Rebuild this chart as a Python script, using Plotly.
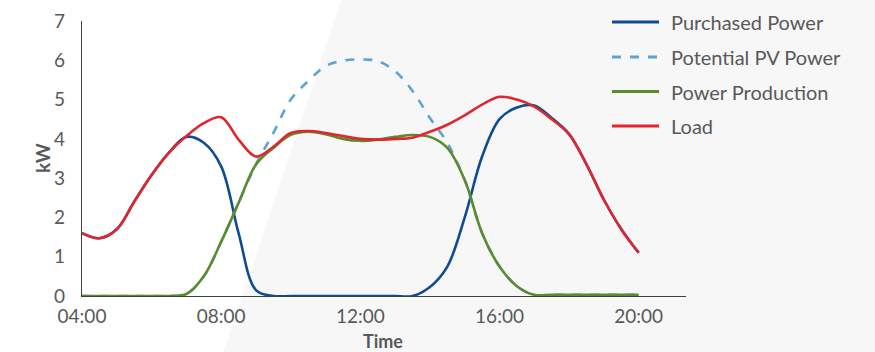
import plotly.graph_objects as go

hours = [4.0, 4.5, 5.0, 5.5, 6.0, 6.5, 7.0, 7.5, 8.0, 8.5, 9.0, 9.5, 10.0, 10.5, 11.0, 11.5,
         12.0, 12.5, 13.0, 13.5, 14.0, 14.5, 15.0, 15.5, 16.0, 16.5, 17.0, 17.5, 18.0, 18.5,
         19.0, 19.5, 20.0]

load = [1.60, 1.47, 1.70, 2.40, 3.08, 3.65, 4.07, 4.40, 4.55, 3.98, 3.55, 3.80, 4.15, 4.20,
        4.15, 4.07, 4.00, 3.98, 4.00, 4.03, 4.18, 4.36, 4.60, 4.87, 5.07, 5.00, 4.82, 4.50,
        4.12, 3.35, 2.45, 1.70, 1.10]

purchased = [1.60, 1.47, 1.70, 2.40, 3.08, 3.65, 4.05, 3.90, 3.30, 1.60, 0.15, 0.0, 0.0, 0.0,
             0.0, 0.0, 0.0, 0.0, 0.0, 0.0, 0.23, 0.75, 2.00, 3.55, 4.50, 4.80, 4.85, 4.53,
             4.12, 3.35, 2.45, 1.70, 1.10]

production = [0.0, 0.0, 0.0, 0.0, 0.0, 0.0, 0.05, 0.50, 1.38, 2.37, 3.35, 3.77, 4.10, 4.18,
              4.12, 4.00, 3.95, 3.98, 4.05, 4.10, 4.05, 3.77, 2.95, 1.60, 0.75, 0.25, 0.03,
              0.03, 0.03, 0.03, 0.03, 0.03, 0.03]

potential_pv = [0.0, 0.0, 0.0, 0.0, 0.0, 0.0, 0.05, 0.50, 1.38, 2.37, 3.35, 4.15, 5.00, 5.47,
                5.85, 5.99, 6.02, 5.98, 5.72, 5.22, 4.53, 3.90, 2.95, 1.60, 0.75, 0.25, 0.03,
                0.03, 0.03, 0.03, 0.03, 0.03, 0.03]

tick_vals = [4, 8, 12, 16, 20]
tick_text = ["04:00", "08:00", "12:00", "16:00", "20:00"]

series_names = ["Purchased Power", "Potential PV Power", "Power Production", "Load"]
series_colors = ["#0E4C92", "#5BA4DA", "#5B8B2E", "#E0262E"]
series_dash = ["solid", "dash", "solid", "solid"]
series_values = [purchased, potential_pv, production, load]

FONT = "Lato"
GREY = "#595959"

# plot area: x 82..686, y 21..296 (pixels)
W, H = 875, 352
L, R, T, B = 82, W - 686, 21, H - 296
pw, ph = W - L - R, H - T - B


def px(x):
    return (x - L) / pw


def py(y):
    return (H - B - y) / ph


fig = go.Figure()
for name, vals, col, dash in zip(series_names, series_values, series_colors, series_dash):
    fig.add_trace(go.Scatter(
        x=hours, y=vals, name=name, mode="lines", showlegend=False,
        line=dict(color=col, width=2.6, dash=dash, shape="spline", smoothing=1.0),
    ))

# diagonal light background panel
fig.add_shape(
    type="path", xref="paper", yref="paper", layer="below",
    path=f"M {px(343)},{py(-5)} L {px(900)},{py(-5)} L {px(900)},{py(360)} L {px(221)},{py(360)} Z",
    fillcolor="#F7F7F7", line=dict(width=0),
)

# legend (drawn manually so it can sit above the plot area like the reference)
row_y = [22, 57, 91.5, 126]
for name, col, dash, ry in zip(series_names, series_colors, series_dash, row_y):
    fig.add_shape(
        type="line", xref="paper", yref="paper",
        x0=px(612), x1=px(659), y0=py(ry), y1=py(ry),
        line=dict(color=col, width=3, dash="dash" if dash == "dash" else "solid"),
    )
    fig.add_annotation(
        text=name, xref="paper", yref="paper", x=px(669), y=py(ry),
        xanchor="left", yanchor="middle", showarrow=False,
        font=dict(family=FONT, size=20, color=GREY),
    )

# axis titles
fig.add_annotation(
    text="<b>Time</b>", xref="paper", yref="paper", x=px(383), y=py(340.5),
    xanchor="center", yanchor="middle", showarrow=False,
    font=dict(family=FONT, size=18, color=GREY),
)
fig.add_annotation(
    text="<b>kW</b>", xref="paper", yref="paper", x=px(42), y=py(158),
    xanchor="center", yanchor="middle", showarrow=False, textangle=-90,
    font=dict(family=FONT, size=19, color=GREY),
)

fig.update_layout(
    width=W, height=H,
    margin=dict(l=L, r=R, t=T, b=B, autoexpand=False),
    paper_bgcolor="white", plot_bgcolor="rgba(0,0,0,0)",
    font=dict(family=FONT, color=GREY, size=19),
    showlegend=False,
    xaxis=dict(
        range=[4, 21.36], tickvals=tick_vals, ticktext=tick_text, automargin=False,
        showgrid=False, zeroline=False, showline=True, linecolor="#404040", linewidth=1.3,
        ticks="", ticklabelstandoff=3, tickfont=dict(family=FONT, size=19, color=GREY),
    ),
    yaxis=dict(
        range=[0, 7], dtick=1, automargin=False,
        showgrid=False, zeroline=False, showline=True, linecolor="#404040", linewidth=1.3,
        ticks="", ticklabelstandoff=12, tickfont=dict(family=FONT, size=19, color=GREY),
    ),
)

fig.write_html(
    "out.html",
    config={"displayModeBar": False},
    post_script="document.body.style.margin='0';document.documentElement.style.overflow='hidden';",
)
